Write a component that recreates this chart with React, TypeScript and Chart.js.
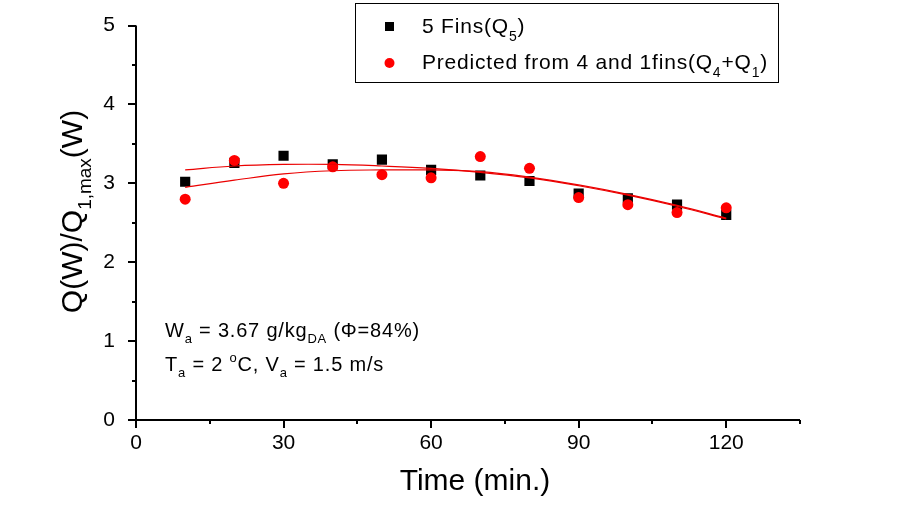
import React, { useEffect, useRef } from "react";
import { Chart, registerables } from "chart.js";
Chart.register(...registerables);

const time = [10, 20, 30, 40, 50, 60, 70, 80, 90, 100, 110, 120];
const q5 = [3.02, 3.26, 3.35, 3.24, 3.3, 3.17, 3.1, 3.03, 2.87, 2.81, 2.73, 2.6];
const qPred = [2.8, 3.29, 3.0, 3.21, 3.11, 3.07, 3.34, 3.19, 2.82, 2.73, 2.63, 2.69];
const fitQ5 = [3.17, 3.22, 3.24, 3.24, 3.22, 3.19, 3.14, 3.07, 2.97, 2.85, 2.71, 2.55];
const fitPred = [2.95, 3.04, 3.12, 3.16, 3.17, 3.17, 3.15, 3.08, 2.98, 2.86, 2.72, 2.56];

const xMin = 0;
const xMax = 135;
const xStep = 15;
const xLabelStep = 30;
const yMin = 0;
const yMax = 5;
const yStep = 0.5;

const FAMILY = "'Liberation Sans', Arial, sans-serif";

type Part = { t: string; k?: "sub" | "sup" };

function richWidth(ctx: CanvasRenderingContext2D, parts: Part[], size: number, subSize: number, spacing: number) {
  let w = 0;
  ctx.save();
  (ctx as any).letterSpacing = spacing + "px";
  for (const p of parts) {
    ctx.font = `${p.k ? subSize : size}px ${FAMILY}`;
    w += ctx.measureText(p.t).width;
  }
  ctx.restore();
  return w;
}

function drawRich(
  ctx: CanvasRenderingContext2D,
  x: number,
  y: number,
  parts: Part[],
  size: number,
  subSize: number,
  subDy: number,
  supDy: number,
  spacing: number
) {
  let cx = x;
  ctx.save();
  ctx.textAlign = "left";
  ctx.textBaseline = "alphabetic";
  ctx.fillStyle = "#000";
  (ctx as any).letterSpacing = spacing + "px";
  for (const p of parts) {
    const s = p.k ? subSize : size;
    ctx.font = `${s}px ${FAMILY}`;
    const dy = p.k === "sub" ? subDy : p.k === "sup" ? supDy : 0;
    ctx.fillText(p.t, cx, y + dy);
    cx += ctx.measureText(p.t).width;
  }
  ctx.restore();
  return cx;
}

const legend1: Part[] = [{ t: "5 Fins(Q" }, { t: "5", k: "sub" }, { t: ")" }];
const legend2: Part[] = [
  { t: "Predicted from 4 and 1fins(Q" },
  { t: "4", k: "sub" },
  { t: "+Q" },
  { t: "1", k: "sub" },
  { t: ")" },
];
const note1: Part[] = [
  { t: "W" },
  { t: "a", k: "sub" },
  { t: " = 3.67 g/kg" },
  { t: "DA", k: "sub" },
  { t: " (\u03A6=84%)" },
];
const note2: Part[] = [
  { t: "T" },
  { t: "a", k: "sub" },
  { t: " = 2 " },
  { t: "o", k: "sup" },
  { t: "C, V" },
  { t: "a", k: "sub" },
  { t: " = 1.5 m/s" },
];
const yTitle: Part[] = [{ t: "Q(W)/Q" }, { t: "1,max", k: "sub" }, { t: "(W)" }];
const xTitle = "Time (min.)";

const decorPlugin = {
  id: "decor",
  afterDraw(chart: any) {
    const ctx: CanvasRenderingContext2D = chart.ctx;
    const xs = chart.scales.x;
    const ys = chart.scales.y;
    const area = chart.chartArea;
    ctx.save();
    ctx.strokeStyle = "#000";
    ctx.lineWidth = 2;
    ctx.beginPath();
    ctx.moveTo(area.left, area.top);
    ctx.lineTo(area.left, area.bottom);
    ctx.lineTo(area.right, area.bottom);
    ctx.stroke();
    for (const t of xs.ticks) {
      const px = Math.round(xs.getPixelForValue(t.value));
      const major = t.value % xLabelStep === 0;
      ctx.beginPath();
      ctx.moveTo(px, area.bottom);
      ctx.lineTo(px, area.bottom + (major ? 8 : 4));
      ctx.stroke();
    }
    for (const t of ys.ticks) {
      const py = Math.round(ys.getPixelForValue(t.value));
      const major = Number.isInteger(t.value);
      ctx.beginPath();
      ctx.moveTo(area.left, py);
      ctx.lineTo(area.left - (major ? 8 : 4), py);
      ctx.stroke();
    }
    ctx.restore();

    // legend
    ctx.save();
    ctx.strokeStyle = "#000";
    ctx.lineWidth = 1;
    ctx.strokeRect(355.5, 3.5, 423, 79);
    ctx.fillStyle = "#000";
    ctx.fillRect(385, 22, 9, 9);
    ctx.fillStyle = "#ff0000";
    ctx.beginPath();
    ctx.arc(389.5, 63, 5, 0, Math.PI * 2);
    ctx.fill();
    ctx.restore();
    drawRich(ctx, 422, 33, legend1, 21, 14, 8, -8, 0.8);
    drawRich(ctx, 422, 69, legend2, 21, 14, 8, -8, 0.8);

    // annotations
    drawRich(ctx, 165, 337, note1, 20, 13, 6, -9, 0.8);
    drawRich(ctx, 165, 371, note2, 20, 13, 6, -9, 0.8);

    // x title
    ctx.save();
    ctx.font = `30px ${FAMILY}`;
    ctx.fillStyle = "#000";
    ctx.textAlign = "center";
    ctx.textBaseline = "alphabetic";
    ctx.fillText(xTitle, 475, 490);
    ctx.restore();

    // y title
    ctx.save();
    ctx.translate(82, 211.5);
    ctx.rotate(-Math.PI / 2);
    const w = richWidth(ctx, yTitle, 30, 19, 0);
    drawRich(ctx, -w / 2, 0, yTitle, 30, 19, 9, -10, 0);
    ctx.restore();
  },
};

export default function App() {
  const ref = useRef<HTMLCanvasElement | null>(null);
  useEffect(() => {
    if (!ref.current) return;
    const pts = (ys: number[]) => time.map((t, i) => ({ x: t, y: ys[i] }));
    const chart = new Chart(ref.current, {
      type: "scatter",
      data: {
        datasets: [
          {
            label: "fit5",
            type: "line",
            data: pts(fitQ5),
            borderColor: "rgb(235,0,0)",
            borderWidth: 1.2,
            pointRadius: 0,
            tension: 0.4,
            fill: false,
            order: 0,
          } as any,
          {
            label: "fitPred",
            type: "line",
            data: pts(fitPred),
            borderColor: "rgb(235,0,0)",
            borderWidth: 1.2,
            pointRadius: 0,
            tension: 0.4,
            fill: false,
            order: 0,
          } as any,
          {
            label: "Predicted from 4 and 1fins(Q4+Q1)",
            data: pts(qPred),
            pointStyle: "circle",
            pointRadius: 5.5,
            pointBorderWidth: 0,
            backgroundColor: "#ff0000",
            borderColor: "#ff0000",
            order: 1,
          },
          {
            label: "5 Fins(Q5)",
            data: pts(q5),
            pointStyle: "rect",
            pointRadius: 7.2,
            pointBorderWidth: 0,
            backgroundColor: "#000",
            borderColor: "#000",
            order: 2,
          },
        ],
      },
      options: {
        animation: false,
        responsive: false,
        events: [],
        layout: { padding: { top: 24, right: 97, left: 0, bottom: 0 } },
        plugins: { legend: { display: false }, tooltip: { enabled: false } },
        scales: {
          x: {
            type: "linear",
            min: xMin,
            max: xMax,
            grid: { display: false },
            border: { display: false },
            ticks: {
              stepSize: xStep,
              autoSkip: false,
              maxRotation: 0,
              padding: 3,
              color: "#000",
              font: { family: FAMILY, size: 21 },
              callback: (v: any) => (Number(v) % xLabelStep === 0 ? String(v) : ""),
            },
            afterFit: (s: any) => {
              s.height = 97;
            },
          },
          y: {
            type: "linear",
            min: yMin,
            max: yMax,
            grid: { display: false },
            border: { display: false },
            ticks: {
              stepSize: yStep,
              autoSkip: false,
              padding: 13,
              color: "#000",
              font: { family: FAMILY, size: 21 },
              callback: (v: any) => (Number.isInteger(Number(v)) ? String(v) : ""),
            },
            afterFit: (s: any) => {
              s.width = 136;
            },
          },
        },
      },
      plugins: [decorPlugin],
    });
    return () => chart.destroy();
  }, []);
  return (
    <div style={{ position: "absolute", left: 0, top: 0, width: 897, height: 517, background: "#fff" }}>
      <canvas ref={ref} width={897} height={517} style={{ display: "block" }} />
    </div>
  );
}
